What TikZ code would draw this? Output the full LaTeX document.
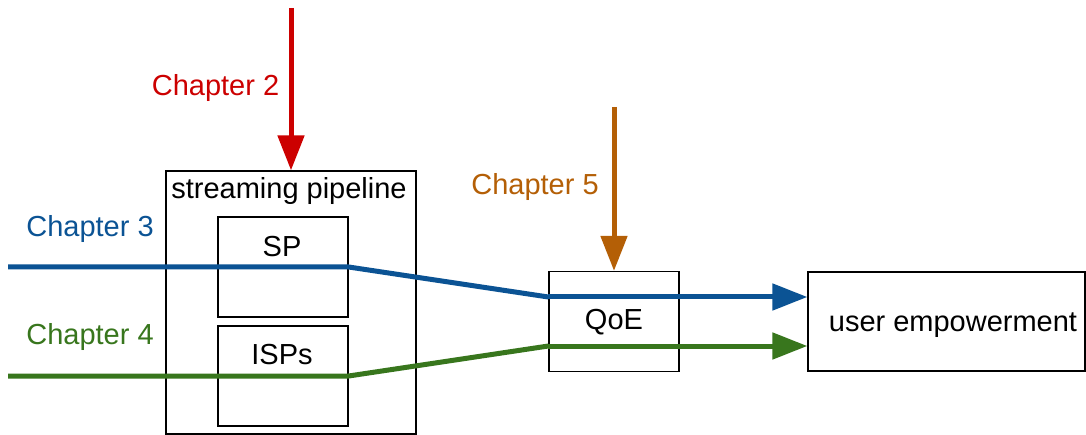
\documentclass[tikz,border=0pt]{standalone}
\usepackage{fontspec}
\setmainfont{Liberation Sans}
\usetikzlibrary{arrows.meta}
\definecolor{cred}{HTML}{CC0000}
\definecolor{cblue}{HTML}{0B5394}
\definecolor{cgreen}{HTML}{38761D}
\definecolor{corange}{HTML}{B45F06}
\tikzset{
  box/.style={draw=black, line width=1.3pt, fill=none, inner sep=0pt},
  lbl/.style={inner sep=0pt, font=\fontsize{29}{34}\selectfont},
  flow/.style={line width=5pt, -{Triangle[length=35pt,width=26pt]}},
  plain/.style={line width=5pt},
}
\begin{document}
\begin{tikzpicture}[x=1pt,y=-1pt]
\useasboundingbox (0,0) rectangle (1086,435);
% boxes
\node[box, minimum width=250pt, minimum height=263pt] (pipe) at (291,302.5) {};
\node[lbl] (pipetxt) at (289,191) {streaming pipeline};
\node[box, minimum width=130pt, minimum height=100pt] (SP) at (283,267) {};
\node[lbl] (SPtxt) at (282,247) {SP};
\node[box, minimum width=130pt, minimum height=100pt] (ISP) at (283,376) {};
\node[lbl] (ISPtxt) at (282,354.5) {ISPs};
\node[box, minimum width=130pt, minimum height=100pt] (QoE) at (614,321.5) {};
\node[lbl] (QoEtxt) at (614,322) {QoE};
\node[box, minimum width=277pt, minimum height=99pt] (user) at (946.5,321.5) {};
\node[lbl] (usertxt) at (953,325) {user empowerment};
% chapter labels
\node[lbl, text=cred] (c2) at (215.5,88.5) {Chapter 2};
\node[lbl, text=cblue] (c3) at (90,229.5) {Chapter 3};
\node[lbl, text=cgreen] (c4) at (90,337.5) {Chapter 4};
\node[lbl, text=corange] (c5) at (535,187.5) {Chapter 5};
% free ends
\coordinate (s2) at (291,8);
\coordinate (s5) at (614,107);
\coordinate (s3) at (8,267);
\coordinate (s4) at (8,376);
% connectors
\draw[flow, draw=cred, fill=cred] (s2) -- (s2 |- pipe.north);
\draw[flow, draw=corange, fill=corange] (s5) -- (QoE.north);
\draw[plain, cblue] (s3) -- (SP.east) -- ([yshift=24.5pt]QoE.west);
\draw[flow, draw=cblue, fill=cblue] ([yshift=24.5pt]QoE.west) -- ([yshift=24.5pt]QoE.west -| user.west);
\draw[plain, cgreen] (s4) -- (ISP.east) -- ([yshift=-24.5pt]QoE.west);
\draw[flow, draw=cgreen, fill=cgreen] ([yshift=-24.5pt]QoE.west) -- ([yshift=-24.5pt]QoE.west -| user.west);
\end{tikzpicture}
\end{document}
